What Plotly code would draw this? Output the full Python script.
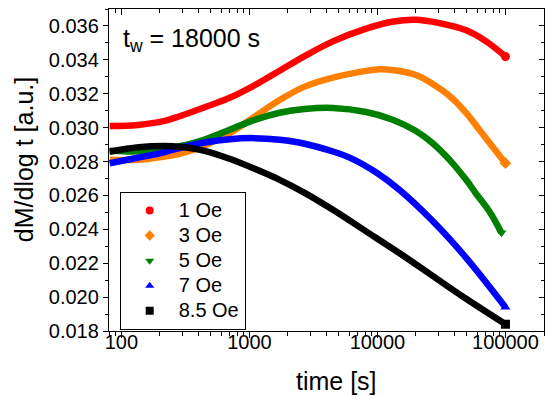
import plotly.graph_objects as go
import math

# ---- data ----
labels = ["1 Oe", "3 Oe", "5 Oe", "7 Oe", "8.5 Oe"]
colors = ["#FF0000", "#FF8000", "#008000", "#0000FF", "#000000"]
symbols = ["circle", "diamond", "triangle-down", "triangle-up", "square"]

t_1 = [81, 134, 218, 285, 447, 700, 1098, 1722, 2700, 4490, 8160, 13000, 20000, 30000, 49300, 70600, 100000]
m_1 = [0.03010, 0.03016, 0.0304, 0.03067, 0.0312, 0.03176, 0.0325, 0.03336, 0.03422, 0.03509, 0.03584, 0.03625, 0.03637, 0.03618, 0.03574, 0.03509, 0.0342]

t_3 = [81, 134, 218, 285, 447, 700, 1098, 1722, 2700, 4490, 8160, 10380, 13000, 20000, 27000, 36600, 49300, 62700, 100000]
m_3 = [0.0281, 0.0281, 0.0283, 0.02845, 0.02895, 0.02967, 0.03065, 0.03163, 0.03242, 0.03295, 0.03335, 0.03344, 0.0334, 0.03311, 0.03258, 0.03187, 0.03087, 0.02986, 0.0279]

t_5 = [81, 134, 218, 285, 447, 700, 1098, 1722, 2700, 4490, 8160, 13000, 20000, 27000, 36600, 49300, 59000, 75000, 93000]
m_5 = [0.02864, 0.0286, 0.02872, 0.0289, 0.0293, 0.02987, 0.03046, 0.03088, 0.0311, 0.03116, 0.03092, 0.03048, 0.0298, 0.02908, 0.0281, 0.02692, 0.0261, 0.02505, 0.0238]

t_7 = [81, 134, 218, 285, 447, 700, 1098, 1722, 2700, 4490, 6060, 9800, 14900, 27000, 49300, 100000]
m_7 = [0.0279, 0.02822, 0.02856, 0.0288, 0.02912, 0.02932, 0.02938, 0.02928, 0.02905, 0.02859, 0.02823, 0.02735, 0.02632, 0.02449, 0.02232, 0.0194]

t_85 = [81, 136, 218, 285, 447, 700, 1098, 1722, 2700, 4490, 8160, 14900, 27000, 49300, 100000]
m_85 = [0.02858, 0.02884, 0.02891, 0.02887, 0.02863, 0.02816, 0.02757, 0.02692, 0.02615, 0.02515, 0.02388, 0.02259, 0.02125, 0.0199, 0.0184]

series_t = [t_1, t_3, t_5, t_7, t_85]
series_m = [m_1, m_3, m_5, m_7, m_85]

x_range = [math.log10(80), math.log10(200000)]
y_range = [0.018, 0.037]
x_ticks = [100, 1000, 10000, 100000]
x_ticktext = ["100", "1000", "10000", "100000"]
x_minor = [m * 10 ** d for d in range(1, 6) for m in range(2, 10) if 80 <= m * 10 ** d <= 200000]

FONT = "Arial, Liberation Sans, sans-serif"

fig = go.Figure()
for t, m, c, s in zip(series_t, series_m, colors, symbols):
    fig.add_trace(go.Scatter(x=t, y=m, mode="lines",
                             line=dict(color=c, width=6.5, shape="spline", smoothing=1.0),
                             showlegend=False, hoverinfo="skip"))
    fig.add_trace(go.Scatter(x=[t[-1]], y=[m[-1]], mode="markers",
                             marker=dict(symbol=s, color=c, size=9),
                             showlegend=False, hoverinfo="skip"))
for c, s, lab in zip(colors, symbols, labels):
    fig.add_trace(go.Scatter(x=[None], y=[None], mode="markers",
                             name='<span style="font-size:20px">' + lab + '</span>',
                             marker=dict(symbol=s, color=c, size=8)))
# dummy trace so the mirror axes (top / right, inward ticks) are drawn
fig.add_trace(go.Scatter(x=[None], y=[None], xaxis="x2", yaxis="y2",
                         showlegend=False, hoverinfo="skip"))

axis_common = dict(showline=True, linecolor="black", linewidth=1.3, showgrid=False, zeroline=False)

fig.update_layout(
    width=546, height=399,
    margin=dict(l=109, r=2, t=9, b=68),
    paper_bgcolor="white", plot_bgcolor="white",
    font=dict(family=FONT, color="black", size=20),
    xaxis=dict(type="log", range=x_range, tickmode="array", tickvals=x_ticks, ticktext=x_ticktext,
               ticks="outside", ticklen=6, tickwidth=1.2, tickcolor="black",
               minor=dict(tickmode="array", tickvals=x_minor, ticks="outside", ticklen=3.5,
                          tickwidth=1, tickcolor="black", showgrid=False),
               tickfont=dict(size=20), ticklabelstandoff=-13,
               **axis_common),
    yaxis=dict(range=y_range, dtick=0.002, tick0=0.018, tickformat=".3f",
               ticks="outside", ticklen=5, tickwidth=1.2, tickcolor="black",
               minor=dict(dtick=0.001, tick0=0.018, ticks="outside", ticklen=3, tickwidth=1,
                          tickcolor="black", showgrid=False),
               tickfont=dict(size=20),
               **axis_common),
    xaxis2=dict(type="log", range=x_range, overlaying="x", side="top", tickmode="array",
                tickvals=x_ticks, showticklabels=False, ticks="inside", ticklen=6, tickwidth=1.2,
                tickcolor="black",
                minor=dict(tickmode="array", tickvals=x_minor, ticks="inside", ticklen=3.5,
                           tickwidth=1, tickcolor="black", showgrid=False),
                **axis_common),
    yaxis2=dict(range=y_range, overlaying="y", side="right", dtick=0.002, tick0=0.018,
                showticklabels=False, ticks="inside", ticklen=5, tickwidth=1.2, tickcolor="black",
                minor=dict(dtick=0.001, tick0=0.018, ticks="inside", ticklen=3, tickwidth=1,
                           tickcolor="black", showgrid=False),
                **axis_common),
    legend=dict(x=0.0246, y=0.432, xanchor="left", yanchor="top",
                bgcolor="white", bordercolor="black", borderwidth=1,
                font=dict(size=17), itemwidth=48, tracegroupgap=0),
    annotations=[
        dict(text="t<sub>w</sub> = 18000 s", xref="paper", yref="paper",
             x=0.028, y=0.904, xanchor="left", yanchor="middle",
             showarrow=False, font=dict(size=25)),
        dict(text="time [s]", xref="paper", yref="paper", x=0.522, y=-0.155,
             xanchor="center", yanchor="middle", showarrow=False, font=dict(size=25)),
        dict(text="dM/dlog t [a.u.]", xref="paper", yref="paper", x=-0.195, y=0.531,
             xanchor="center", yanchor="middle", textangle=-90, showarrow=False,
             font=dict(size=25)),
    ],
    showlegend=True,
)

fig.write_html("out.html", post_script="document.body.style.margin='0';",
               config={"displayModeBar": False})
